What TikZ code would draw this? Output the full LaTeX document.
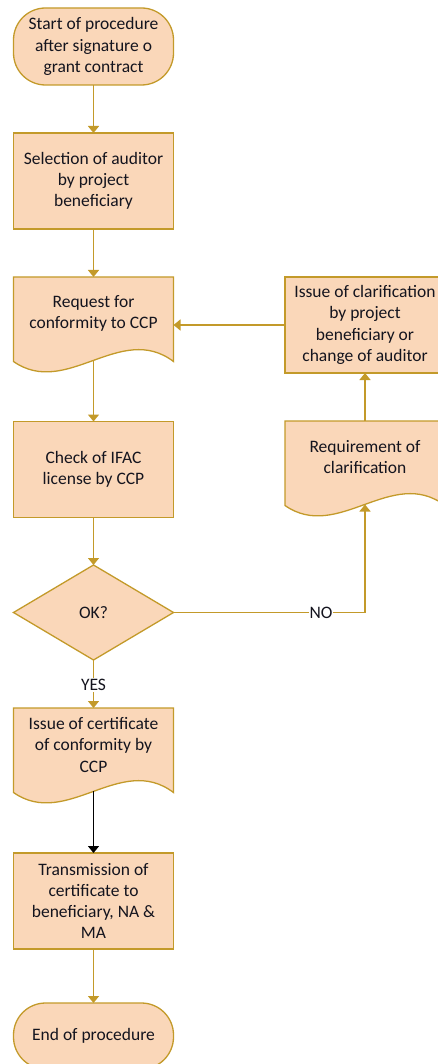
\documentclass[tikz,border=0pt]{standalone}
\usepackage{fontspec}
\setmainfont{Carlito}
\usetikzlibrary{shapes.geometric,arrows.meta,backgrounds}
\definecolor{shfill}{HTML}{FAD7B9}
\definecolor{shline}{HTML}{C39A2A}
\definecolor{txt}{HTML}{14141E}
\newcommand\flowfont{\fontsize{17.5}{21.3}\selectfont}
\tikzset{
  base/.style={draw=shline, fill=shfill, line width=1.3pt, minimum width=160pt,
    align=center, text=txt, font=\flowfont, inner sep=0pt, outer sep=0pt},
  procbox/.style={base, rectangle, minimum height=96pt},
  termbox/.style={base, rectangle, rounded corners=32pt, minimum height=77pt},
  decbox/.style={base, diamond, minimum width=160pt, minimum height=95pt},
  docbox/.style={rectangle, minimum width=160pt, minimum height=84.5pt,
    inner sep=0pt, outer sep=0pt},
  doctext/.style={text=txt, font=\flowfont, align=center, inner sep=0pt},
  docline/.style={draw=shline, fill=shfill, line width=1.3pt},
  conn/.style={draw=shline, line width=1.5pt, -{Triangle[width=11pt,length=7pt]}},
  blackconn/.style={draw=black, line width=1.5pt, -{Triangle[width=11pt,length=7pt]}},
  lab/.style={fill=white, text=txt, font=\flowfont, inner sep=1pt},
}
\newcommand\docpath[1]{%
  \path[docline] (#1.north west) -- (#1.north east) -- (#1.south east)
    .. controls ([xshift=-53pt,yshift=40pt]#1.south east)
       and ([xshift=53pt,yshift=-37pt]#1.south west) .. (#1.south west) -- cycle;}
\begin{document}
\begin{tikzpicture}[x=1pt,y=-1pt]
\useasboundingbox (0,0) rectangle (437,1064);
% left column
\node[termbox] (start) at (93.5,46.5) {Start of procedure\\after signature o\\grant contract};
\node[procbox] (sel) at (93.5,181) {Selection of auditor\\by project\\beneficiary};
\node[docbox, label={[doctext,yshift=5.5pt]center:{Request for\\conformity to CCP}}] (req) at (93.5,319.25) {};
\node[procbox] (chk) at (93.5,469.5) {Check of IFAC\\license by CCP};
\node[decbox] (ok) at (93.5,612.5) {OK?};
\node[docbox, label={[doctext,yshift=5.5pt]center:{Issue of certificate\\of conformity by\\CCP}}] (cert) at (93.5,750.25) {};
\node[procbox] (trans) at (93.5,901) {Transmission of\\certificate to\\beneficiary, NA \&\\MA};
\node[termbox, minimum height=66pt] (end) at (93.5,1036) {End of procedure};
% right column
\node[procbox] (clar) at (365,325) {Issue of clarification\\by project\\beneficiary or\\change of auditor};
\node[docbox, label={[doctext,yshift=6pt]center:{Requirement of\\clarification}}] (reqc) at (365,463.25) {};
\begin{scope}[on background layer]
  \docpath{req}
  \docpath{cert}
  \docpath{reqc}
\end{scope}
% connectors
\draw[conn] (start.south) -- (sel.north);
\draw[conn] (sel.south) -- (req.north);
\draw[conn] ([yshift=1pt]req.south) -- (chk.north);
\draw[conn] (chk.south) -- (ok.north);
\draw[conn] (ok.south) -- node[lab, pos=0.52] (yes) {YES} (cert.north);
\draw[blackconn] ([yshift=1.5pt]cert.south) -- (trans.north);
\draw[conn] (trans.south) -- (end.north);
\draw[conn] (clar.west) -- (clar.west -| req.east);
\draw[conn] (reqc.north) -- (clar.south);
\draw[conn] (ok.east) -- node[lab, pos=0.77] (no) {NO} (ok.east -| reqc.south) -- ([yshift=1pt]reqc.south);
\end{tikzpicture}
\end{document}
